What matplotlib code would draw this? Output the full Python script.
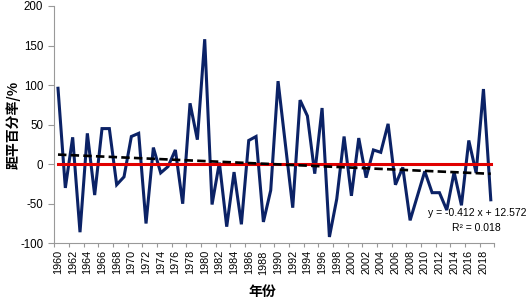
import matplotlib
matplotlib.use("Agg")
import matplotlib.pyplot as plt
import numpy as np

years = list(range(1960, 2020))
anomaly = [96, -30, 34, -86, 39, -39, 45, 45, -26, -16,
           35, 39, -75, 21, -11, -3, 18, -50, 77, 31,
           158, -51, 2, -79, -10, -76, 30, 35, -73, -33,
           105, 25, -55, 81, 61, -12, 71, -92, -44, 35,
           -40, 33, -17, 18, 15, 51, -26, -4, -71, -40,
           -9, -36, -36, -58, -10, -52, 30, -11, 95, -45]
zero_line = [0] * len(years)
trend_slope = -0.412
trend_intercept = 12.572
trend_label = "y = -0.412 x + 12.572"
r2_label = "R² = 0.018"
y_ticks = [-100, -50, 0, 50, 100, 150, 200]
x_label_years = list(range(1960, 2020, 2))

fig = plt.figure(figsize=(5.29, 3.04), dpi=100)
ax = fig.add_axes([0.1027, 0.1997, 0.832, 0.7806])

idx = np.arange(1, len(years) + 1)
trend = trend_slope * idx + trend_intercept

ax.plot(years, anomaly, color="#0b2266", lw=2.2, zorder=3, solid_joinstyle="miter")
ax.plot(years, zero_line, color="#e00000", lw=2.2, zorder=4)
ax.plot(years, trend, color="black", lw=1.9, ls=(0, (3.2, 1.6)), zorder=5)

ax.set_xlim(1959.5, 2019.5)
ax.set_ylim(-100, 200)
ax.set_yticks(y_ticks)
ax.set_yticklabels([str(v) for v in y_ticks], fontsize=8.3, family="Liberation Sans")
ax.set_xticks(x_label_years)
ax.set_xticklabels([str(v) for v in x_label_years], rotation=90, fontsize=7.8,
                   family="Liberation Sans")
ax.tick_params(axis="x", which="major", length=0, pad=5)
ax.set_xticks(np.arange(1959.5, 2020, 2), minor=True)
ax.tick_params(axis="x", which="minor", length=3, color="#999999", width=0.8)
ax.tick_params(axis="y", length=4, color="#999999", width=0.8, pad=4)

for s in ["top", "right"]:
    ax.spines[s].set_visible(False)
for s in ["left", "bottom"]:
    ax.spines[s].set_color("#999999")
    ax.spines[s].set_linewidth(0.8)

fig.text(0.026, 0.59, "距平百分率/%", family=["Noto Sans CJK SC", "DejaVu Sans"],
         fontsize=10, fontweight="bold", rotation=90, ha="center", va="center")
fig.text(0.495, 0.04, "年份", family=["Noto Sans CJK SC", "DejaVu Sans"],
         fontsize=10, fontweight="bold", ha="center", va="center")

fig.text(0.995, 0.30, trend_label, fontsize=7.5, family="Liberation Sans",
         ha="right", va="center")
fig.text(0.90, 0.25, r2_label, fontsize=7.5, family="Liberation Sans",
         ha="center", va="center")

fig.savefig("out.png", dpi=100)
